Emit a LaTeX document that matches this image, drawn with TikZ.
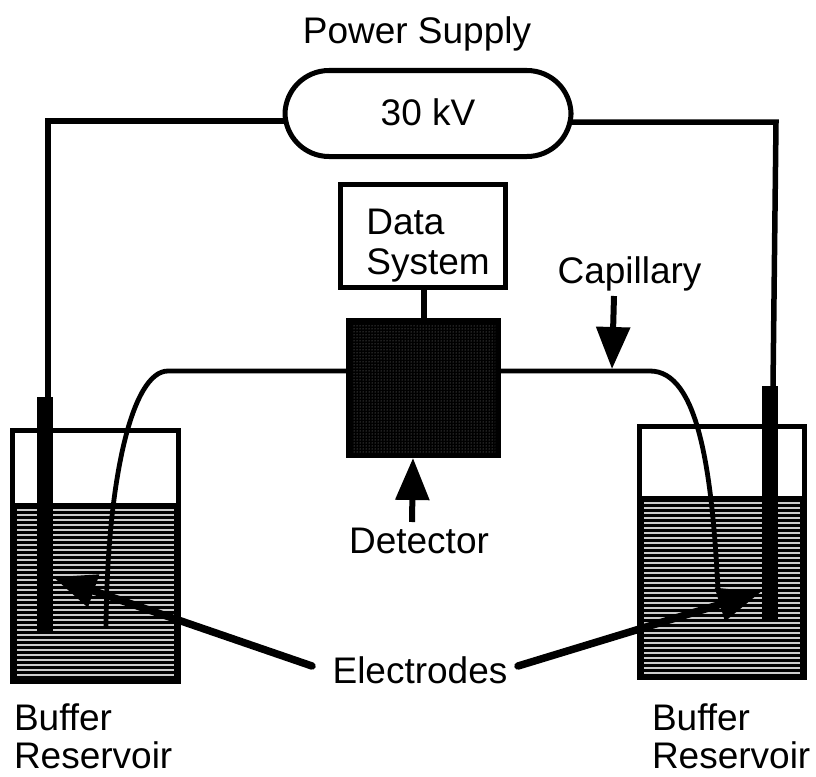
\documentclass[tikz,border=0pt]{standalone}
\usepackage{fontspec}
\setmainfont{Liberation Sans}
\usetikzlibrary{arrows.meta,patterns}

\tikzset{
  wire/.style={line width=5.5pt},
  capline/.style={line width=4.8pt},
  boxline/.style={draw,line width=5pt,outer sep=0pt,inner sep=0pt},
  electrode/.style={fill=black,outer sep=0pt,inner sep=0pt,minimum width=16pt},
  label/.style={inner sep=0pt,outer sep=0pt,font=\fontsize{37}{40}\selectfont},
  buflabel/.style={inner sep=0pt,outer sep=0pt,align=left,anchor=north west,font=\fontsize{37}{38}\selectfont},
  callout/.style={line width=7.5pt,line cap=round,-{Triangle[length=43pt,width=33pt]}},
  pointer/.style={line width=6pt,-{Triangle[length=42pt,width=33pt]}},
}

\begin{document}
\begin{tikzpicture}[x=1pt,y=1pt,yscale=-1,xscale=1]
\useasboundingbox (0,0) rectangle (816,776);

% Buffer left
\fill (12,503) rectangle (179,682);
\foreach \y in {510,515,...,680}
  \draw [white!80!black,line width=1.6pt] (17,\y) -- (174,\y);
\draw [line width=5pt] (12.5,430.5) rectangle (178.5,681.5);
% Buffer right
\fill (639,496) rectangle (805,678);
\foreach \y in {503,508,...,675}
  \draw [white!80!black,line width=1.6pt] (644,\y) -- (800,\y);
\draw [line width=5pt] (639.5,426.5) rectangle (804.5,677.5);

% Power supply
\node [boxline,rounded corners=44pt,minimum width=286pt,minimum height=86pt,label] (psu) at (428,113.5) {\raisebox{3pt}{30 kV}};
\node [label] (psulabel) at (417,34) {Power Supply};

% Data system and detector
\node [boxline,minimum width=165pt,minimum height=103pt] (datasys) at (423,236) {};
\node [label,align=left] (datalabel) at (428,246) {Data\\System};
\node [fill=black,outer sep=0pt,inner sep=0pt,minimum width=155pt,minimum height=140pt] (detector) at (423.5,388) {};
\path [pattern=dots,pattern color=white!55!black] (352,324) rectangle (495,452);
\draw [wire] (datasys.south -| 424,0) -- (detector.north -| 424,0);

% Electrodes
\node [electrode,minimum height=235pt] (elecL) at (45,514.5) {};
\node [electrode,minimum height=236pt] (elecR) at (770,504) {};
\coordinate (wirepsuL) at (286,121);
\coordinate (wirepsuR) at (570,122);
\coordinate (wirecornerL) at (48,121);
\coordinate (wirecornerR) at (776,122);
\coordinate (wireendL) at (48,397);
\coordinate (wireendR) at (773,386);
\draw [wire] (wirepsuL) -- (wirecornerL) -- (wireendL);
\draw [wire] (wirepsuR) -- (wirecornerR) -- (wireendR);

% Capillary
\draw [capline] (detector.west |- 0,371) -- (168,371) .. controls (132,371) and (107,480) .. (106,628);
\draw [capline] (detector.east |- 0,371) -- (650,371) .. controls (698,371) and (712,470) .. (718,590);

% Arrows
\coordinate (capstem) at (614,296);
\coordinate (captip) at (612,369);
\coordinate (detstem) at (412,522);
\coordinate (detectortip) at (413,458);
\draw [pointer] (capstem) -- (captip);
\draw [pointer] (detstem) -- (detectortip);
\coordinate (calloutL) at (312,666);
\coordinate (calloutR) at (518,666);
\coordinate (tipL) at (53,577);
\coordinate (tipR) at (761,592);
\draw [callout] (calloutL) -- (tipL);
\draw [callout] (calloutR) -- (tipR);

% Text Node
\node [label] (caplabel) at (629.5,274) {Capillary};
\node [label] (detlabel) at (419,541) {Detector};
\node [label] (eleclabel) at (420,670) {Electrodes};
\node [buflabel] (bufL) at (14,704) {Buffer\\Reservoir};
\node [buflabel] (bufR) at (652,704) {Buffer\\Reservoir};

\end{tikzpicture}
\end{document}
